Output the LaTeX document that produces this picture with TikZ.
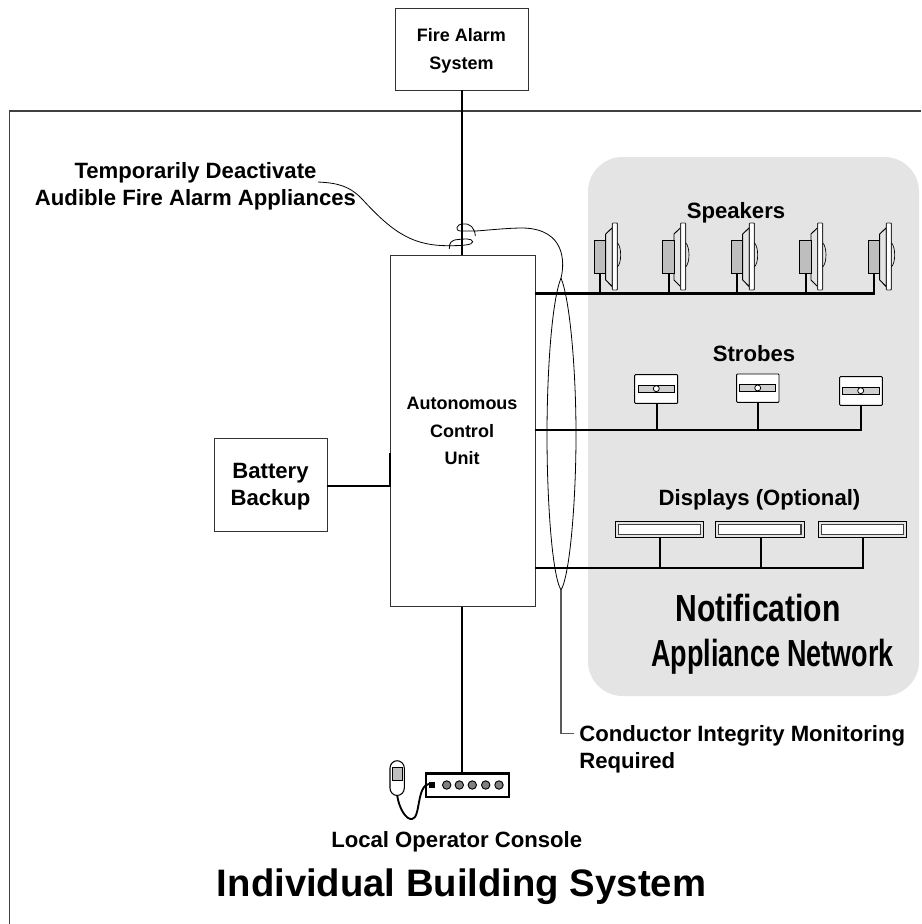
\documentclass[tikz,border=0pt]{standalone}
\usepackage{fontspec}
\setmainfont{Liberation Sans}
\definecolor{panel}{HTML}{E4E4E4}
\definecolor{midg}{HTML}{BEBEBE}
\tikzset{
  thin line/.style={line width=0.6pt,black},
  bus/.style={line width=2pt,black},
  lab/.style={font=\bfseries\fontsize{16.6pt}{20.3pt}\selectfont,align=center,inner sep=0pt},
  small lab/.style={font=\bfseries\fontsize{13.5pt}{20.8pt}\selectfont,align=center,inner sep=0pt},
  boxn/.style={draw=black!80,line width=0.7pt,fill=white,inner sep=0pt},
  leader/.style={line width=0.9pt,black!65}
}
\newcommand{\speaker}[2]{%
 \begin{scope}[shift={(#1,0)}]
  \draw[line width=0.7pt,fill=panel] (11.7,234) -- (18.3,227.7) -- (18.3,286.7) -- (11.7,280) -- cycle;
  \draw[line width=0.7pt,fill=midg] (0,240) rectangle (11.7,273.3);
  \draw[line width=0.7pt,draw=black!80,fill=white,rounded corners=0.5pt] (18.3,223) rectangle (23.3,290);
  \draw[line width=0.5pt] (23.3,242.7) .. controls (27.8,247) and (27.8,263) .. (23.3,267);
  \draw[line width=1.6pt] (#2,273.3) -- (#2,294);
 \end{scope}}
\newcommand{\strobe}[8]{%
 \draw[line width=0.7pt,fill=white,rounded corners=0.6pt] (#1,#2) rectangle (#3,#4);
 \draw[line width=0.6pt,fill=panel!80!gray] (#5,#6) rectangle (#7,{#6+7.3});
 \draw[line width=0.6pt,fill=white] (#8,{#6+3.65}) circle (3);}
\newcommand{\dispbar}[2]{%
 \draw[line width=0.7pt,fill=panel] (#1,521) rectangle (#2,537.7);
 \draw[line width=0.9pt,draw=black!75,fill=white] ({#1+3},524.3) rectangle ({#2-3},534.3);}
\begin{document}
\begin{tikzpicture}[x=0.75pt,y=-0.75pt]
\useasboundingbox (0,0) rectangle (921,924);
\fill[white] (0,0) rectangle (921,924);
\draw[line width=0.9pt,black!75] (9.5,924) -- (9.5,111) -- (921,111);
\fill[panel,rounded corners=26pt] (588,157) rectangle (919,696);

% boxes
\draw[boxn] (395,8) rectangle (528,90);
\node[small lab,font=\bfseries\fontsize{13.5pt}{21pt}\selectfont] (fire) at (461.5,51) {Fire Alarm\\System};
\draw[boxn] (390,255.3) rectangle (535,606.7);
\node[small lab] (acu) at (462,431) {Autonomous\\Control\\Unit};
\draw[boxn] (214,438) rectangle (327,531);
\node[lab] (batt) at (270.5,486.5) {Battery\\Backup};

% trunk lines
\draw[bus] (462,90) -- (462,255.3);
\draw[bus] (462,606.7) -- (462,773.3);
\draw[bus] (327,486) -- (390,486);
\draw[line width=1.5pt] (390.3,452.7) -- (390.3,487);
\draw[bus] (535,293.8) -- (875,293.8);
\draw[bus] (535,430) -- (861.5,430);
\draw[bus] (535,568) -- (864,568);

% speakers
\speaker{594}{6.3}\speaker{662.3}{6.3}\speaker{731}{6.3}\speaker{799.3}{6.3}\speaker{868}{5.7}
\node[lab] (spk) at (736,213) {Speakers};

% strobes
\strobe{634.7}{374.7}{677.7}{403.3}{638.3}{385}{674.3}{656.3}
\strobe{736.7}{374}{779}{402.3}{739.7}{384.3}{775.7}{757.7}
\strobe{839.7}{376.7}{882.3}{405.3}{842.3}{387}{879.3}{860.7}
\draw[line width=1.5pt] (657.3,403.3) -- (657.3,430);
\draw[line width=1.5pt] (758.3,402.3) -- (758.3,430);
\draw[line width=1.5pt] (860.7,405.3) -- (860.7,430);
\node[lab] (str) at (754,354) {Strobes};

% displays
\dispbar{615.3}{703.3}\dispbar{715.7}{804}\dispbar{818.3}{906.7}
\draw[line width=1.5pt] (660,537.7) -- (660,568);
\draw[line width=1.5pt] (761,537.7) -- (761,568);
\draw[line width=1.5pt] (863,537.7) -- (863,568);
\node[lab] (dsp) at (759.5,500) {Displays (Optional)};

\node[inner sep=0pt,font=\bfseries\fontsize{28.3pt}{31pt}\selectfont] (n1) at (758,608.5) {\scalebox{0.797}[1]{Notification}};
\node[inner sep=0pt,font=\bfseries\fontsize{28.3pt}{31pt}\selectfont] (n2) at (772.5,657) {\scalebox{0.715}[1]{Appliance Network}};

% ellipse and curly leader
\draw[thin line] (561,278) .. controls (552,300) and (547,370) .. (547,435) .. controls (547,500) and (552,575) .. (561,590) .. controls (570,575) and (576,500) .. (576,435) .. controls (576,370) and (570,300) .. (561,278);
\draw[thin line] (561,278) .. controls (565,262) and (565,229) .. (523,228) .. controls (508,228) and (490,230) .. (476,231);
\draw[thin line] (475.3,236) .. controls (475,228) and (470,223) .. (463,224) .. controls (456,224) and (455,231) .. (460,231) .. controls (466,231) and (470,231) .. (476,231);
\draw[thin line] (450,245.7) .. controls (462,245.7) and (473,245) .. (472.7,241.7) .. controls (472,238) and (464,239) .. (458,239.5) .. controls (451,240) and (449,243) .. (449.3,249);
\draw[thin line] (450,245.7) .. controls (415,246) and (395,235) .. (363,200) .. controls (350,186) and (338,183) .. (318,182);

% conductor leader
\draw[leader] (561,590) -- (561,733.5) -- (574,733.5);
\node[lab,anchor=west,align=left] (cond) at (579,749.5) {Conductor Integrity Monitoring\\Required};

% temporary label
\node[lab] (temp) at (195.5,186.5) {Temporarily Deactivate\\Audible Fire Alarm Appliances};

% console
\draw[line width=1.6pt,fill=white] (425.7,773.5) rectangle (509.3,796.7);
\fill (429.3,782.3) rectangle (435,788.3);
\foreach \xx in {446.7,459.3,472.3,485.7,499} \draw[line width=0.7pt,fill=gray] (\xx,785) circle (4.2);
\draw[line width=0.8pt,fill=white,rounded corners=5.5pt] (390,760.7) rectangle (404.3,795.5);
\draw[line width=0.6pt,fill=midg] (392.7,767.3) rectangle (402.3,780.7);
\draw[line width=1.4pt] (397.3,796) .. controls (399,808) and (406,820) .. (412,819) .. controls (421,818) and (416,785) .. (430,783.5);

\node[lab] (loc) at (456.7,841.3) {Local Operator Console};
\node[lab,font=\bfseries\fontsize{28.7pt}{32pt}\selectfont] (title) at (461.5,887) {Individual Building System};
\end{tikzpicture}
\end{document}
